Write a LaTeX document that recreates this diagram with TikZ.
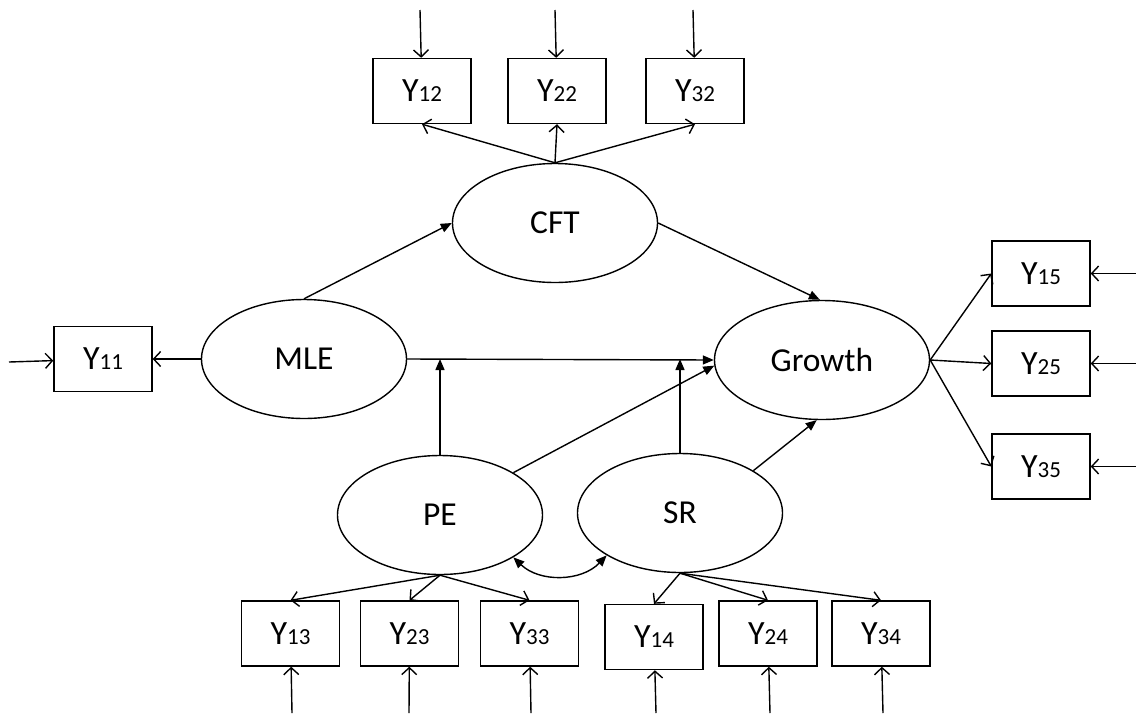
\documentclass[tikz,border=0pt]{standalone}
\usepackage{fontspec}
\setmainfont{Carlito}
\usetikzlibrary{arrows.meta,shapes.geometric,calc}

\newcommand{\ind}[2]{#1{\fontsize{23}{23}\selectfont #2}}

\tikzset{
  latent/.style={draw, ellipse, line width=1.4pt, inner sep=0pt,
    minimum width=205pt, minimum height=119pt,
    font=\fontsize{33.5}{33.5}\selectfont},
  obs/.style={draw, rectangle, line width=1.4pt, inner sep=0pt,
    minimum width=98pt, minimum height=65pt,
    font=\fontsize{34}{34}\selectfont},
  load/.style={line width=1.4pt, -{Straight Barb[length=7pt,width=15pt,line width=1.4pt]}},
  path/.style={line width=1.4pt, -{Triangle[length=11pt,width=9pt]}},
  covar/.style={line width=1.4pt, {Triangle[length=11pt,width=9pt]}-{Triangle[length=11pt,width=9pt]}},
}

\begin{document}
\begin{tikzpicture}[x=1pt, y=-1pt]
\useasboundingbox (0,0) rectangle (1136,713);

% latent variables
\node[latent] (CFT) at (555,223) {CFT};
\node[latent] (MLE) at (304,359) {MLE};
\node[latent, minimum width=215pt] (G) at (822,360) {Growth};
\node[latent] (PE) at (440,515) {PE};
\node[latent] (SR) at (680,513) {SR};

% indicators
\node[obs] (Y11) at (103,359) {\ind{Y}{11}};
\node[obs] (Y12) at (422,91) {\ind{Y}{12}};
\node[obs] (Y22) at (557,91) {\ind{Y}{22}};
\node[obs] (Y32) at (695,91) {\ind{Y}{32}};
\node[obs] (Y15) at (1041,273.5) {\ind{Y}{15}};
\node[obs] (Y25) at (1041,363.5) {\ind{Y}{25}};
\node[obs] (Y35) at (1041,466.5) {\ind{Y}{35}};
\node[obs] (Y13) at (290.5,633.5) {\ind{Y}{13}};
\node[obs] (Y23) at (409.5,633.5) {\ind{Y}{23}};
\node[obs] (Y33) at (529.5,633.5) {\ind{Y}{33}};
\node[obs] (Y14) at (654,637) {\ind{Y}{14}};
\node[obs] (Y24) at (768,633.5) {\ind{Y}{24}};
\node[obs] (Y34) at (881,633.5) {\ind{Y}{34}};

% error terms
\coordinate (e11) at (9,362);
\coordinate (e12) at (420,10);
\coordinate (e22) at (555,10);
\coordinate (e32) at (693,10);
\coordinate (e15) at (1136,273.5);
\coordinate (e25) at (1136,363.5);
\coordinate (e35) at (1136,466.5);
\coordinate (e13) at (292,713);
\coordinate (e23) at (409,713);
\coordinate (e33) at (531,713);
\coordinate (e14) at (656,713);
\coordinate (e24) at (770,713);
\coordinate (e34) at (883,713);

\foreach \i in {11,12,22,32,15,25,35,13,23,33,14,24,34}
  \draw[load] (e\i) -- (Y\i);

% measurement paths
\draw[load] (MLE.west) -- (Y11.east);
\draw[load] (CFT.north) -- (Y12.south);
\draw[load] (CFT.north) -- (Y22.south);
\draw[load] (CFT.north) -- (Y32.south);
\draw[load] (G.east) -- (Y15.west);
\draw[load] (G.east) -- (Y25.west);
\draw[load] (G.east) -- (Y35.west);
\draw[load] (PE.south) -- (Y13.north);
\draw[load] (PE.south) -- (Y23.north);
\draw[load] (PE.south) -- (Y33.north);
\draw[load] (SR.south) -- (Y14.north);
\draw[load] (SR.south) -- (Y24.north);
\draw[load] (SR.south) -- (Y34.north);

% structural paths
\draw[path] (MLE.north) -- (CFT.west);
\draw[path] (CFT.east) -- (G.92);
\draw[path] (MLE.east) -- (G.west);
\coordinate (mPE) at (PE.north |- MLE.east);
\coordinate (mSR) at (SR.north |- MLE.east);
\draw[path] (PE.north) -- (mPE);
\draw[path] (SR.north) -- (mSR);
\draw[path] (PE.30) -- (G.183);
\draw[path] (SR.30) -- (G.265);

% covariance
\draw[covar] (PE.330) to[bend right=45] (SR.210);
\end{tikzpicture}
\end{document}
